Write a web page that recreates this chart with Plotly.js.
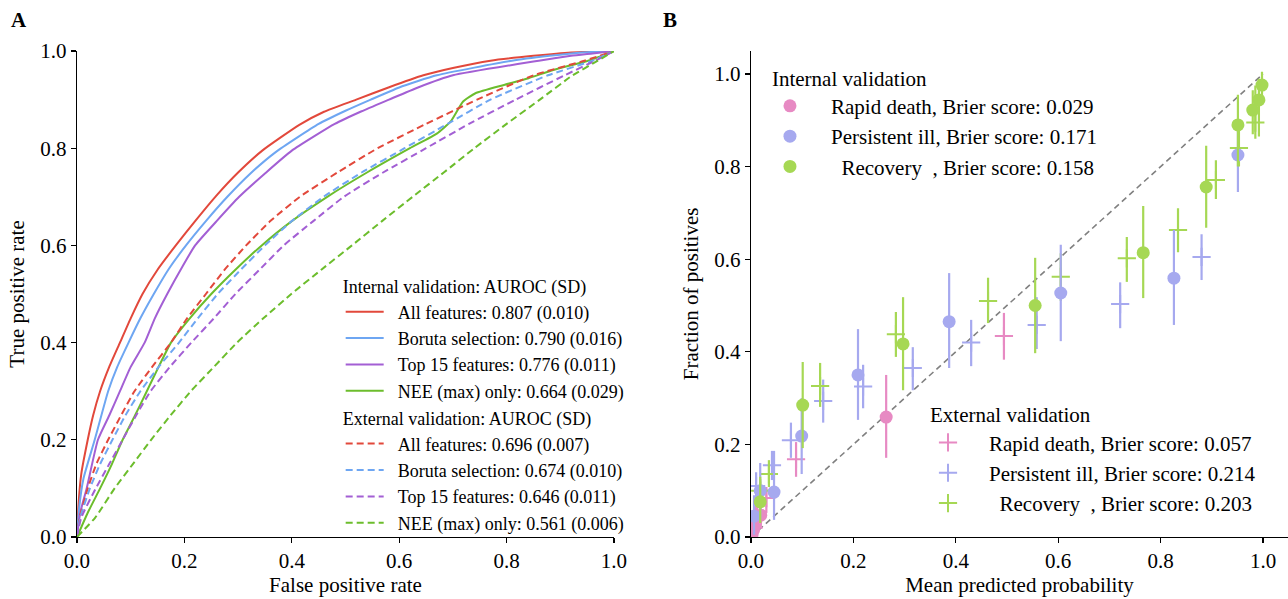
<!DOCTYPE html>
<html>
<head>
<meta charset="utf-8">
<script src="https://cdn.plot.ly/plotly-3.0.1.min.js"></script>
<style>html,body{margin:0;padding:0;background:#fff;}#chart{width:1288px;height:599px;}</style>
</head>
<body>
<div id="chart"></div>
<script>
// ---------- Panel A: ROC curves ----------
const intAllFpr = [0,0.003,0.008,0.02,0.03,0.043,0.06,0.08,0.1,0.122,0.15,0.184,0.22,0.26,0.3,0.345,0.414,0.46,0.52,0.58,0.645,0.7,0.77,0.85,0.92,1];
const intAllTpr = [0,0.07,0.13,0.2,0.25,0.3,0.35,0.4,0.45,0.5,0.55,0.6,0.65,0.703,0.75,0.795,0.848,0.875,0.9,0.925,0.95,0.965,0.98,0.99,0.997,1];

const intBorFpr = [0,0.004,0.012,0.033,0.058,0.075,0.096,0.118,0.143,0.17,0.203,0.24,0.28,0.322,0.37,0.45,0.5,0.547,0.6,0.67,0.81,0.88,0.94,1];
const intBorTpr = [0,0.06,0.12,0.2,0.3,0.35,0.4,0.45,0.5,0.55,0.6,0.65,0.7,0.747,0.792,0.85,0.877,0.9,0.925,0.95,0.98,0.99,0.997,1];

const intTopFpr = [0,0.006,0.018,0.039,0.06,0.08,0.1,0.126,0.145,0.168,0.193,0.22,0.26,0.302,0.35,0.40,0.48,0.53,0.581,0.635,0.70,0.86,0.92,0.96,1];
const intTopTpr = [0,0.05,0.1,0.2,0.25,0.3,0.35,0.4,0.45,0.5,0.55,0.6,0.65,0.7,0.748,0.795,0.85,0.876,0.9,0.925,0.95,0.98,0.99,0.995,1];

const intNeeFpr = [0,0.02,0.043,0.065,0.085,0.108,0.13,0.152,0.175,0.21,0.25,0.295,0.344,0.4,0.466,0.54,0.62,0.67,0.696,0.719,0.742,0.795,0.841,0.887,0.955,1];
const intNeeTpr = [0,0.05,0.1,0.15,0.2,0.25,0.3,0.35,0.4,0.45,0.5,0.55,0.6,0.65,0.7,0.75,0.8,0.83,0.855,0.896,0.913,0.93,0.944,0.961,0.981,1];

const extTpr    = [0,0.04,0.1,0.15,0.2,0.25,0.3,0.35,0.4,0.45,0.5,0.55,0.6,0.65,0.7,0.75,0.8,0.85,0.9,0.95,0.98,1];
const extAllFpr = [0,0.005,0.02,0.036,0.058,0.082,0.107,0.14,0.175,0.205,0.24,0.275,0.315,0.36,0.415,0.485,0.56,0.65,0.745,0.85,0.945,1];
const extBorFpr = [0,0.006,0.024,0.043,0.066,0.09,0.118,0.152,0.19,0.225,0.262,0.305,0.35,0.4,0.459,0.53,0.61,0.69,0.77,0.877,0.96,1];
const extTopFpr = [0,0.008,0.035,0.06,0.085,0.11,0.137,0.173,0.213,0.255,0.295,0.34,0.385,0.44,0.497,0.57,0.65,0.73,0.817,0.908,0.965,1];
const extNeeFpr = [0,0.034,0.07,0.104,0.138,0.174,0.212,0.255,0.298,0.347,0.399,0.455,0.512,0.568,0.625,0.683,0.74,0.80,0.862,0.923,0.97,1];

const rocNamesInt = ["All features: 0.807 (0.010)","Boruta selection: 0.790 (0.016)","Top 15 features: 0.776 (0.011)","NEE (max) only: 0.664 (0.029)"];
const rocNamesExt = ["All features: 0.696 (0.007)","Boruta selection: 0.674 (0.010)","Top 15 features: 0.646 (0.011)","NEE (max) only: 0.561 (0.006)"];
const rocColors = ["#e2483b","#6ea6f2","#a35fd4","#6cbd2c"];

// ---------- Panel B: calibration ----------
const diagX = [0,1];
const diagY = [0,1];

// internal validation (circles): mean predicted, fraction, lower, upper
const intRdP  = [0.002,0.005,0.009,0.019,0.264];
const intRdF  = [0.005,0.015,0.03,0.047,0.259];
const intRdLo = [0,0,0.005,0.02,0.171];
const intRdHi = [0.02,0.04,0.07,0.08,0.35];

const intPiP  = [0.006,0.018,0.045,0.099,0.209,0.387,0.605,0.826,0.951];
const intPiF  = [0.045,0.1,0.097,0.218,0.35,0.465,0.527,0.559,0.825];
const intPiLo = [0.005,0.04,0.037,0.136,0.253,0.365,0.423,0.458,0.745];
const intPiHi = [0.09,0.16,0.186,0.30,0.449,0.57,0.631,0.663,0.895];

const intReP  = [0.018,0.101,0.297,0.555,0.766,0.889,0.951,0.98,0.992,0.998];
const intReF  = [0.076,0.285,0.417,0.5,0.614,0.756,0.89,0.922,0.944,0.976];
const intReLo = [0.03,0.192,0.317,0.397,0.516,0.668,0.8,0.87,0.865,0.945];
const intReHi = [0.13,0.378,0.518,0.603,0.715,0.845,0.955,0.965,0.99,1.005];

// external validation (plus markers)
const extRdP  = [0.005,0.012,0.03,0.088,0.494];
const extRdF  = [0.02,0.055,0.084,0.168,0.434];
const extRdLo = [0,0.025,0.052,0.13,0.383];
const extRdHi = [0.045,0.085,0.108,0.205,0.484];

const extPiP  = [0.01,0.041,0.078,0.141,0.219,0.316,0.43,0.558,0.721,0.88];
const extPiF  = [0.11,0.155,0.209,0.294,0.325,0.365,0.42,0.458,0.503,0.605];
const extPiLo = [0.08,0.123,0.171,0.247,0.278,0.317,0.369,0.406,0.451,0.555];
const extPiHi = [0.14,0.186,0.247,0.34,0.372,0.41,0.469,0.518,0.55,0.654];

const extReP  = [0.018,0.035,0.135,0.283,0.463,0.605,0.734,0.834,0.908,0.953,0.985];
const extReF  = [0.1,0.136,0.326,0.438,0.51,0.562,0.602,0.663,0.771,0.84,0.895];
const extReLo = [0.075,0.108,0.281,0.389,0.462,0.51,0.551,0.615,0.73,0.80,0.86];
const extReHi = [0.125,0.166,0.376,0.486,0.56,0.613,0.648,0.71,0.814,0.90,0.975];

const calNamesInt = ["Rapid death, Brier score: 0.029","Persistent ill, Brier score: 0.171","Recovery\u00a0\u00a0, Brier score: 0.158"];
const calNamesExt = ["Rapid death, Brier score: 0.057","Persistent ill, Brier score: 0.214","Recovery\u00a0\u00a0, Brier score: 0.203"];
const calPad = ["\u00a0\u00a0\u00a0\u00a0","\u00a0\u00a0\u00a0\u00a0","\u00a0\u00a0\u00a0\u00a0\u00a0\u00a0"];
const calColors = ["#e78ac3","#a6a9ef","#a6d854"];

const FONT = "Liberation Serif, Times New Roman, serif";
const traces = [];

const intF = [intAllFpr,intBorFpr,intTopFpr,intNeeFpr];
const intT = [intAllTpr,intBorTpr,intTopTpr,intNeeTpr];
for (let i=0;i<4;i++){
  traces.push({x:intF[i], y:intT[i], mode:"lines", type:"scatter", name:"\u00a0\u00a0"+rocNamesInt[i],
    line:{color:rocColors[i], width:2, shape:"spline", smoothing:0.5}, xaxis:"x", yaxis:"y", legend:"legend"});
}
const extF = [extAllFpr,extBorFpr,extTopFpr,extNeeFpr];
for (let i=0;i<4;i++){
  traces.push({x:extF[i], y:extTpr, mode:"lines", type:"scatter", name:"\u00a0\u00a0"+rocNamesExt[i],
    line:{color:rocColors[i], width:2, dash:"7px,4px", shape:"spline", smoothing:0.5}, xaxis:"x", yaxis:"y", legend:"legend2"});
}

traces.push({x:diagX, y:diagY, mode:"lines", type:"scatter", showlegend:false,
  line:{color:"#808080", width:1.6, dash:"6px,4px"}, xaxis:"x2", yaxis:"y2"});

function errs(f, lo, hi){ return {plus: hi.map((h,i)=>h-f[i]), minus: f.map((v,i)=>v-lo[i])}; }

const extSets = [[extRdP,extRdF,extRdLo,extRdHi],[extPiP,extPiF,extPiLo,extPiHi],[extReP,extReF,extReLo,extReHi]];
const intSets = [[intRdP,intRdF,intRdLo,intRdHi],[intPiP,intPiF,intPiLo,intPiHi],[intReP,intReF,intReLo,intReHi]];

for (let i=0;i<3;i++){
  const s = extSets[i]; const e = errs(s[1],s[2],s[3]);
  traces.push({x:s[0], y:s[1], mode:"markers", type:"scatter", name:calPad[i]+calNamesExt[i],
    marker:{symbol:"cross-thin", size:13, color:calColors[i], line:{color:calColors[i], width:2}},
    error_y:{type:"data", array:e.plus, arrayminus:e.minus, color:calColors[i], thickness:2.2, width:0},
    xaxis:"x2", yaxis:"y2", legend:"legend4"});
}
for (let i=0;i<3;i++){
  const s = intSets[i]; const e = errs(s[1],s[2],s[3]);
  traces.push({x:s[0], y:s[1], mode:"markers", type:"scatter", name:calPad[i]+calNamesInt[i],
    marker:{symbol:"circle", size:13, color:calColors[i]},
    error_y:{type:"data", array:e.plus, arrayminus:e.minus, color:calColors[i], thickness:2.2, width:0},
    xaxis:"x2", yaxis:"y2", legend:"legend3"});
}

const axisBase = {showgrid:false, zeroline:false, showline:true, linecolor:"#000", linewidth:1.3,
  ticks:"outside", ticklen:5, tickwidth:1.2, tickcolor:"#000", mirror:false,
  tickfont:{family:FONT, size:21, color:"#000"}, automargin:false};

const legBase = {bgcolor:"rgba(0,0,0,0)", borderwidth:0, xanchor:"left", yanchor:"top", traceorder:"normal"};

const layout = {
  width:1288, height:599, paper_bgcolor:"#fff", plot_bgcolor:"#fff",
  margin:{l:0,r:0,t:0,b:0}, font:{family:FONT, color:"#000"},
  xaxis: Object.assign({}, axisBase, {domain:[0.05978,0.4767], range:[0,1], tickvals:[0,0.2,0.4,0.6,0.8,1], ticktext:["0.0","0.2","0.4","0.6","0.8","1.0"],
    title:{text:"False positive rate", font:{family:FONT,size:21}, standoff:3}, anchor:"y"}),
  yaxis: Object.assign({}, axisBase, {domain:[0.10351,0.91486], range:[0,1], tickvals:[0,0.2,0.4,0.6,0.8,1], ticktext:["0.0","0.2","0.4","0.6","0.8","1.0"],
    title:{text:"True positive rate", font:{family:FONT,size:21}, standoff:10}, anchor:"x"}),
  xaxis2: Object.assign({}, axisBase, {domain:[0.58307,1.0], range:[0,1.0488], tickvals:[0,0.2,0.4,0.6,0.8,1], ticktext:["0.0","0.2","0.4","0.6","0.8","1.0"],
    title:{text:"Mean predicted probability", font:{family:FONT,size:21}, standoff:3}, anchor:"y2"}),
  yaxis2: Object.assign({}, axisBase, {domain:[0.10351,0.9151], range:[0,1.05], tickvals:[0,0.2,0.4,0.6,0.8,1], ticktext:["0.0","0.2","0.4","0.6","0.8","1.0"],
    title:{text:"Fraction of positives", font:{family:FONT,size:21}, standoff:10}, anchor:"x2"}),
  legend: Object.assign({}, legBase, {x:0.2645, y:0.5492, itemwidth:38, font:{family:FONT,size:18,color:"#000"},
    title:{text:"Internal validation: AUROC (SD)", side:"top", font:{family:FONT,size:18,color:"#000"}}}),
  legend2: Object.assign({}, legBase, {x:0.2645, y:0.3289, itemwidth:38, font:{family:FONT,size:18,color:"#000"},
    title:{text:"External validation: AUROC (SD)", side:"top", font:{family:FONT,size:18,color:"#000"}}}),
  legend3: Object.assign({}, legBase, {x:0.5978, y:0.9025, font:{family:FONT,size:21,color:"#000"},
    title:{text:"Internal validation", side:"top", font:{family:FONT,size:21,color:"#000"}}}),
  legend4: Object.assign({}, legBase, {x:0.7205, y:0.3406, font:{family:FONT,size:21,color:"#000"},
    title:{text:"External validation", side:"top", font:{family:FONT,size:21,color:"#000"}}}),
  annotations:[
    {text:"<b>A</b>", xref:"paper", yref:"paper", x:19/1288, y:1-20/599, xanchor:"center", yanchor:"middle", showarrow:false, font:{family:FONT,size:21,color:"#000"}},
    {text:"<b>B</b>", xref:"paper", yref:"paper", x:670/1288, y:1-20/599, xanchor:"center", yanchor:"middle", showarrow:false, font:{family:FONT,size:21,color:"#000"}}
  ],
  showlegend:true
};

Plotly.newPlot("chart", traces, layout, {displayModeBar:false, staticPlot:true});
</script>
</body>
</html>
